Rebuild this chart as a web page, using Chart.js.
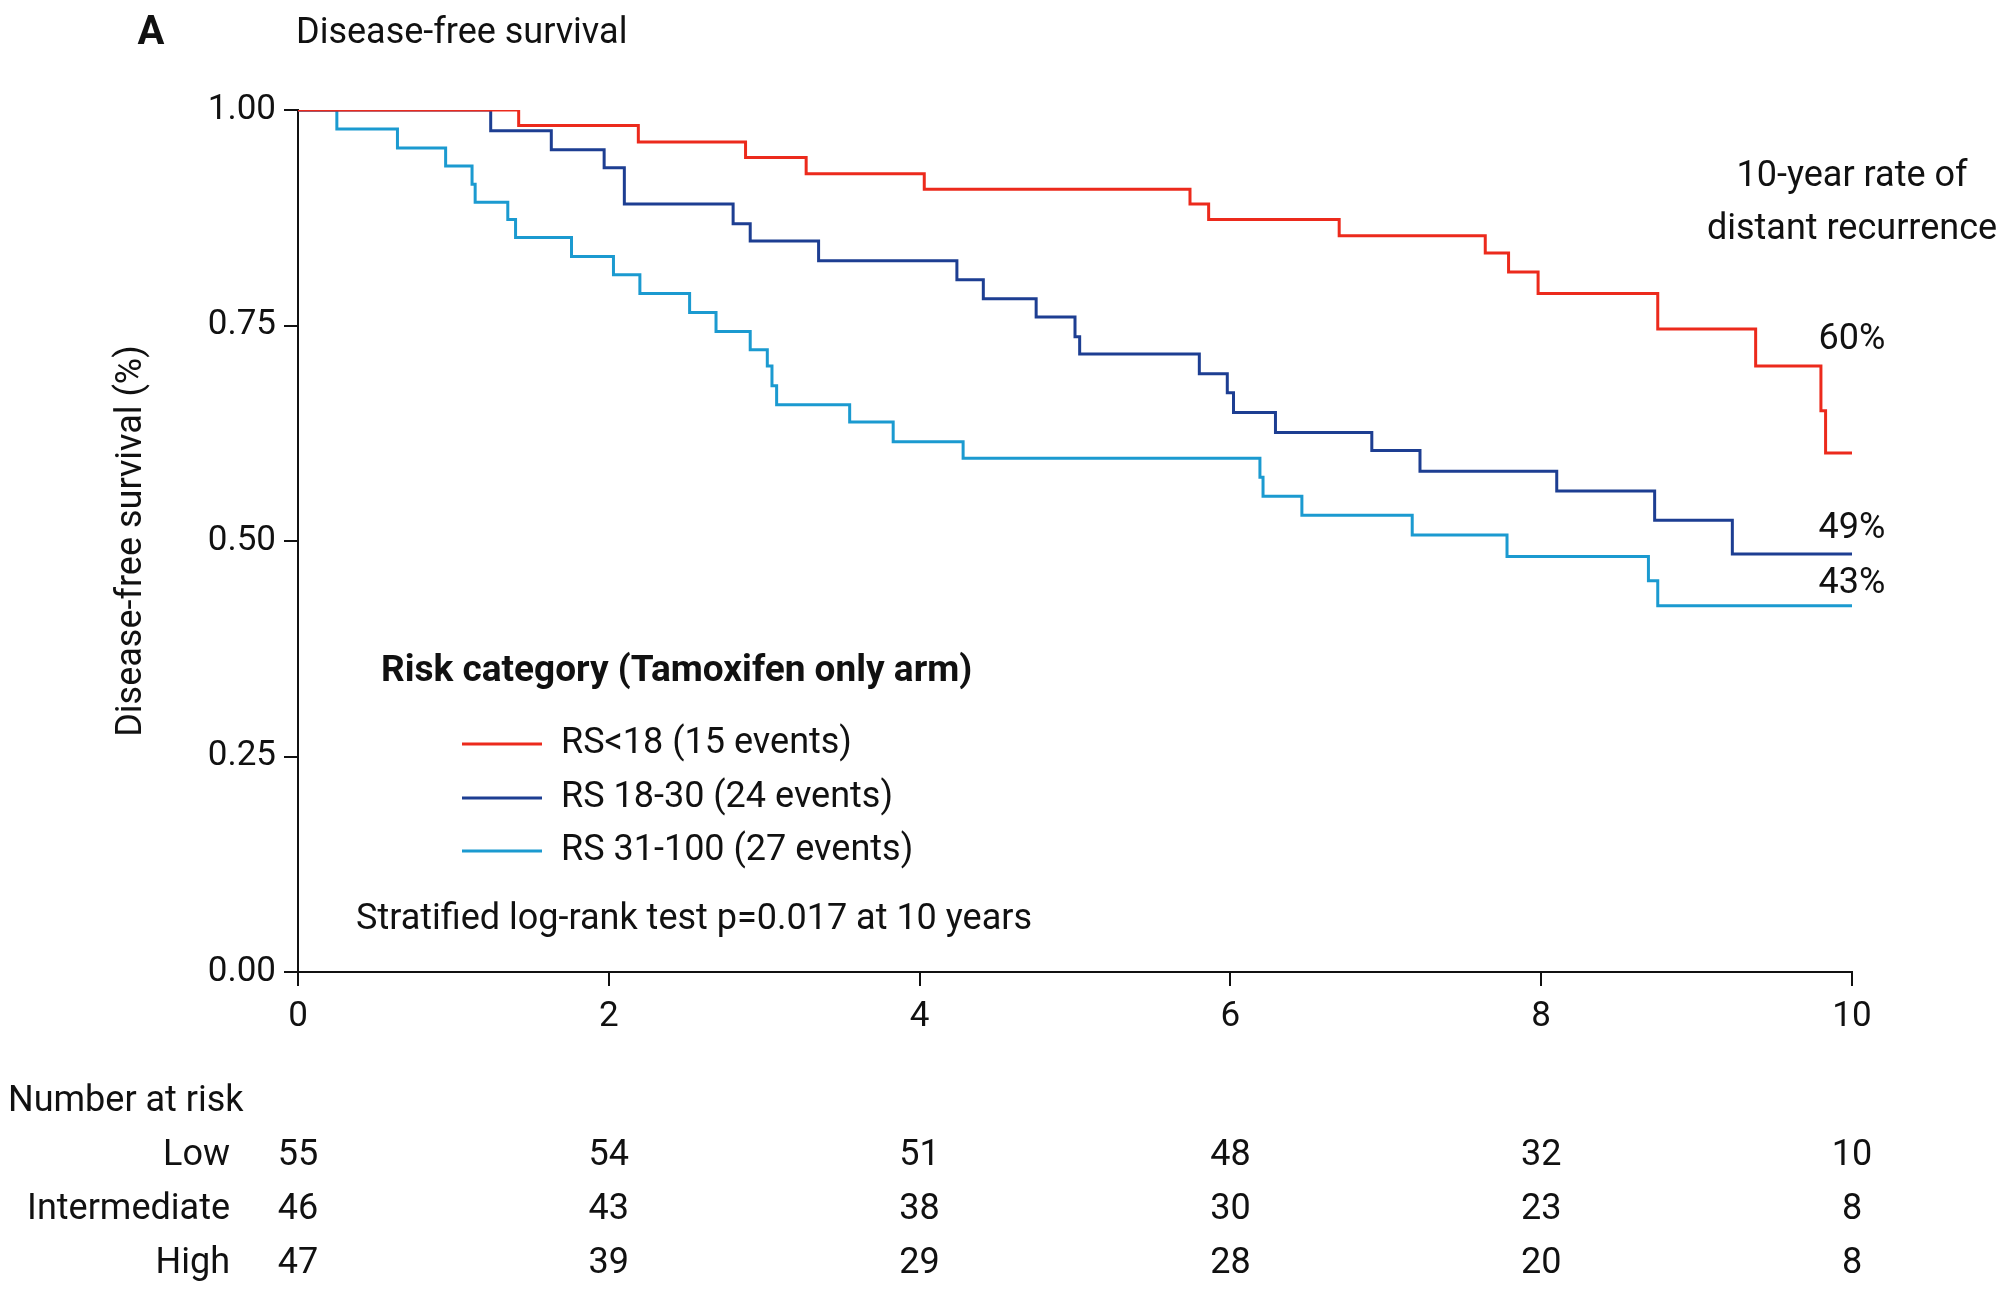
<!DOCTYPE html>
<html><head><meta charset="utf-8">
<script src="https://cdn.jsdelivr.net/npm/chart.js@4"></script>
<style>html,body{margin:0;padding:0;background:#fff}</style>
</head><body>
<canvas id="c" width="2000" height="1298"></canvas>
<script>
const seriesNames = ["RS<18 (15 events)", "RS 18-30 (24 events)", "RS 31-100 (27 events)"];
const seriesColors = ["#ec2a1c", "#1d3e92", "#1b9ad0"];
const lowTimes = [0,1.42,2.19,2.88,3.27,4.03,5.74,5.86,6.70,7.64,7.79,7.98,8.75,9.38,9.80,9.83,10];
const lowSurv  = [1,0.982,0.963,0.945,0.926,0.908,0.891,0.873,0.854,0.834,0.812,0.787,0.746,0.703,0.651,0.602,0.602];
const midTimes = [0,1.24,1.63,1.97,2.10,2.80,2.91,3.35,4.24,4.41,4.75,5.00,5.03,5.80,5.98,6.02,6.29,6.91,7.22,8.10,8.73,9.23,10];
const midSurv  = [1,0.976,0.954,0.933,0.891,0.868,0.848,0.825,0.803,0.781,0.760,0.737,0.717,0.694,0.672,0.649,0.626,0.605,0.581,0.558,0.524,0.485,0.485];
const highTimes = [0,0.25,0.64,0.95,1.12,1.14,1.35,1.40,1.76,2.03,2.20,2.52,2.69,2.91,3.02,3.05,3.08,3.55,3.83,4.28,6.19,6.21,6.46,7.17,7.78,8.69,8.75,10];
const highSurv  = [1,0.978,0.956,0.935,0.914,0.893,0.873,0.852,0.830,0.809,0.787,0.765,0.743,0.722,0.703,0.680,0.658,0.638,0.615,0.596,0.574,0.552,0.530,0.507,0.482,0.454,0.425,0.425];
const xTicks = [0,2,4,6,8,10];
const yTicks = [0,0.25,0.5,0.75,1];
const riskRows = ["Low","Intermediate","High"];
const riskLow = [55,54,51,48,32,10];
const riskMid = [46,43,38,30,23,8];
const riskHigh = [47,39,29,28,20,8];
const endLabels = ["60%","49%","43%"];

const FONT = 'Roboto, "Liberation Sans Narrow", sans-serif';
const toPts = (t, s) => t.map((x, i) => ({x, y: s[i]}));
const allSeries = [[lowTimes,lowSurv],[midTimes,midSurv],[highTimes,highSurv]];

const annot = {
  id: 'annot',
  afterDraw(chart) {
    const ctx = chart.ctx, xs = chart.scales.x;
    ctx.save();
    ctx.fillStyle = '#111';
    ctx.textBaseline = 'middle';
    ctx.font = 'bold 40px ' + FONT; ctx.textAlign = 'center';
    ctx.fillText('A', 151, 34);
    ctx.font = '36px ' + FONT; ctx.textAlign = 'left';
    ctx.fillText('Disease-free survival', 296, 34);
    ctx.textAlign = 'center';
    ctx.fillText('10-year rate of', xs.getPixelForValue(10), 177);
    ctx.fillText('distant recurrence', xs.getPixelForValue(10), 230);
    const ly = [340, 529, 584];
    endLabels.forEach((l, i) => ctx.fillText(l, xs.getPixelForValue(10), ly[i]));
    ctx.textAlign = 'left';
    ctx.font = 'bold 37px ' + FONT;
    ctx.fillText('Risk category (Tamoxifen only arm)', 381, 672);
    ctx.font = '36px ' + FONT;
    const legY = [744, 798, 851];
    seriesNames.forEach((n, i) => {
      ctx.strokeStyle = seriesColors[i]; ctx.lineWidth = 3;
      ctx.beginPath(); ctx.moveTo(462, legY[i]); ctx.lineTo(542, legY[i]); ctx.stroke();
      ctx.fillText(n, 561, legY[i]);
    });
    ctx.fillText('Stratified log-rank test p=0.017 at 10 years', 356, 920);
    ctx.fillText('Number at risk', 8, 1102);
    const rowsY = [1156, 1210, 1264];
    const rowData = [riskLow, riskMid, riskHigh];
    riskRows.forEach((r, i) => {
      ctx.textAlign = 'right';
      ctx.fillText(r, 230, rowsY[i]);
      ctx.textAlign = 'center';
      rowData[i].forEach((v, j) => ctx.fillText(String(v), xs.getPixelForValue(xTicks[j]), rowsY[i]));
    });
    ctx.restore();
  }
};

new Chart(document.getElementById('c'), {
  type: 'line',
  data: {
    datasets: allSeries.map((s, i) => ({
      label: seriesNames[i], data: toPts(s[0], s[1]),
      borderColor: seriesColors[i], borderWidth: 3, stepped: true,
      pointRadius: 0, fill: false
    }))
  },
  options: {
    responsive: false, animation: false,
    layout: { padding: { top: 110, right: 148, left: 0, bottom: 0 } },
    plugins: { legend: { display: false }, tooltip: { enabled: false } },
    scales: {
      x: {
        type: 'linear', min: 0, max: 10,
        afterBuildTicks: s => { s.ticks = xTicks.map(v => ({value: v})); },
        afterFit: s => { s.height = 326; },
        grid: { drawOnChartArea: false, tickLength: 14, color: '#111', lineWidth: 2 },
        border: { color: '#111', width: 2 },
        ticks: { color: '#111', font: { family: FONT, size: 35 }, padding: 10 }
      },
      y: {
        min: 0, max: 1,
        afterBuildTicks: s => { s.ticks = yTicks.map(v => ({value: v})); },
        afterFit: s => { s.width = 298; },
        grid: { drawOnChartArea: false, tickLength: 14, color: '#111', lineWidth: 2 },
        border: { color: '#111', width: 2 },
        ticks: { color: '#111', font: { family: FONT, size: 35 }, padding: 8,
                 callback: v => v.toFixed(2) },
        title: { display: true, text: 'Disease-free survival (%)', color: '#111',
                 font: { family: FONT, size: 36 }, padding: { top: 110, bottom: 0 } }
      }
    }
  },
  plugins: [annot]
});
</script>
</body></html>
